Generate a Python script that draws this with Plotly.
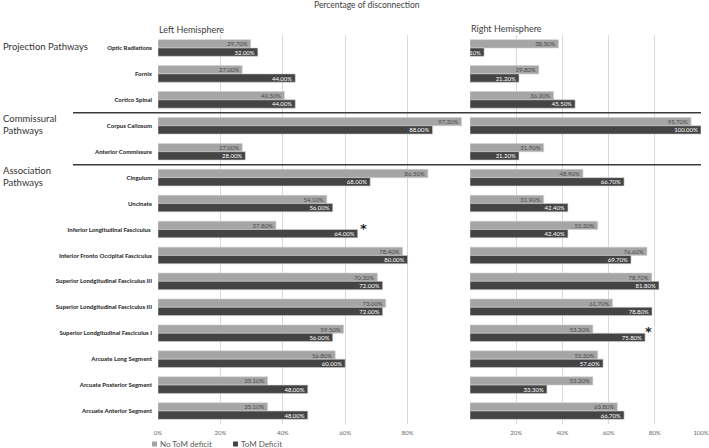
import plotly.graph_objects as go

W, H = 709, 448

categories = [
    "Optic Radiations", "Fornix", "Cortico Spinal",
    "Corpus Callosum", "Anterior Commissure",
    "Cingulum", "Uncinate", "Inferior Longitudinal Fasciculus ",
    "Inferior Fronto Occipital Fasciculus",
    "Superior Londgitudinal Fasciculus III",
    "Superior Londgitudinal Fasciculus III",
    "Superior Londgitudinal Fasciculus I",
    "Arcuate Long Segment", "Arcuate Posterior Segment", "Arcuate Anterior Segment",
]
left_no_tom = [29.7, 27.0, 40.5, 97.3, 27.0, 86.5, 54.1, 37.8, 78.4, 70.3, 73.0, 59.5, 56.8, 35.1, 35.1]
left_tom = [32.0, 44.0, 44.0, 88.0, 28.0, 68.0, 56.0, 64.0, 80.0, 72.0, 72.0, 56.0, 60.0, 48.0, 48.0]
right_no_tom = [38.3, 29.8, 36.2, 95.7, 31.9, 48.9, 31.9, 55.3, 76.6, 78.7, 61.7, 53.2, 55.3, 53.2, 63.8]
right_tom = [6.1, 21.2, 45.5, 100.0, 21.2, 66.7, 42.4, 42.4, 69.7, 81.8, 78.8, 75.8, 57.6, 33.3, 66.7]
left_ticks = [0, 20, 40, 60, 80]
left_tick_labels = ["0%", "20%", "40%", "60%", "80%"]
right_ticks = [0, 20, 40, 60, 80, 100]
right_tick_labels = ["", "20%", "40%", "60%", "80%", "100%"]
group_names = ["Projection Pathways", "Commissural<br>Pathways", "Association<br>Pathways"]
group_rows = [0, 3, 5]
separators = [2.5, 4.5]
significant_left = [7]
significant_right = [11]
series_names = ["No ToM deficit", "ToM Deficit"]

FONT = "Lato, 'Open Sans', sans-serif"
GREY = "#a5a5a5"
DARK = "#444444"
ypos = list(range(len(categories)))

fig = go.Figure()

def add(vals, name, color, txtcolor, xa, ya):
    fig.add_trace(go.Bar(
        y=ypos, x=vals, orientation="h", name=name,
        marker=dict(color=color, line=dict(color="#d0d0d0", width=0.6)),
        text=[f"{v:.2f}%" for v in vals],
        textposition="inside", insidetextanchor="end", textangle=0,
        insidetextfont=dict(size=6, color=txtcolor, family=FONT),
        cliponaxis=True, hoverinfo="skip",
        xaxis=xa, yaxis=ya, showlegend=False,
    ))

add(left_no_tom, series_names[0], GREY, "#4a4a4a", "x", "y")
add(left_tom, series_names[1], DARK, "white", "x", "y")
add(right_no_tom, series_names[0], GREY, "#4a4a4a", "x2", "y2")
add(right_tom, series_names[1], DARK, "white", "x2", "y2")

x0, x1, x2 = 158 / W, 470 / W, 701 / W
ytop, ybot = 35, 424
ydom = [1 - ybot / H, 1 - ytop / H]

yax = dict(range=[len(categories) - 0.5, -0.5], domain=ydom, showgrid=False,
           zeroline=False, showline=False, automargin=False)
xtickfont = dict(size=6, color="#666666")

fig.update_layout(
    width=W, height=H, margin=dict(l=0, r=0, t=0, b=0),
    paper_bgcolor="white", plot_bgcolor="white",
    font=dict(family=FONT, color="#595959"),
    barmode="group", bargap=0.36, bargroupgap=0,
    uniformtext=dict(minsize=6, mode="show"),
    showlegend=False,
    xaxis=dict(domain=[x0, x1], range=[0, 100], tickvals=left_ticks, ticktext=left_tick_labels,
               showgrid=True, gridcolor="#d9d9d9", gridwidth=1, zeroline=False,
               tickfont=xtickfont, anchor="y", ticklen=0, ticklabelstandoff=4, automargin=False),
    xaxis2=dict(domain=[x1, x2], range=[0, 100], tickvals=right_ticks, ticktext=right_tick_labels,
                showgrid=True, gridcolor="#d9d9d9", gridwidth=1, zeroline=False,
                tickfont=xtickfont, anchor="y2", ticklen=0, ticklabelstandoff=4, automargin=False),
    yaxis=dict(**yax, tickvals=ypos, ticktext=categories,
               tickfont=dict(size=6, color="#333333", family="Lato Black, Lato, sans-serif"),
               ticklabelstandoff=5, anchor="x"),
    yaxis2=dict(**yax, showticklabels=False, anchor="x2", matches="y"),
)

# separator lines between pathway groups
for s in separators:
    fig.add_shape(type="line", xref="paper", yref="y", x0=73 / W, x1=701 / W, y0=s, y1=s,
                  line=dict(color="#3a3a3a", width=1.5))

# group labels
for name, r in zip(group_names, group_rows):
    fig.add_annotation(text=name, xref="paper", yref="y", x=1 / W, y=r - 0.05,
                       xanchor="left", yanchor="middle", align="left", showarrow=False,
                       font=dict(size=9.5, color="#333333", family=FONT))

# title and panel titles
fig.add_annotation(text="Percentage of disconnection", xref="paper", yref="paper",
                   x=367 / W, y=1 - 5 / H, xanchor="center", yanchor="middle", showarrow=False,
                   font=dict(size=8.5, color="#404040"))
fig.add_annotation(text="Left Hemisphere", xref="paper", yref="paper",
                   x=157 / W, y=1 - 30 / H, xanchor="left", yanchor="middle", showarrow=False,
                   font=dict(size=9, color="#404040"))
fig.add_annotation(text="Right Hemisphere", xref="paper", yref="paper",
                   x=469 / W, y=1 - 28 / H, xanchor="left", yanchor="middle", showarrow=False,
                   font=dict(size=9, color="#404040"))

# significance asterisks
for r in significant_left:
    fig.add_annotation(text="<b>*</b>", xref="x", yref="y", x=left_tom[r] + 2, y=r - 0.05,
                       showarrow=False, font=dict(size=13, color="#222222", family="DejaVu Sans"))
for r in significant_right:
    fig.add_annotation(text="<b>*</b>", xref="x2", yref="y2", x=right_tom[r] + 1.5, y=r - 0.05,
                       showarrow=False, font=dict(size=13, color="#222222", family="DejaVu Sans"))

# legend (drawn below the left panel)
legend_items = [(series_names[0], GREY, 152), (series_names[1], DARK, 233)]
for name, col, px in legend_items:
    fig.add_shape(type="rect", xref="paper", yref="paper",
                  x0=px / W, x1=(px + 5) / W, y0=1 - 446.5 / H, y1=1 - 441.5 / H,
                  line=dict(width=0), fillcolor=col)
    fig.add_annotation(text=name, xref="paper", yref="paper", x=(px + 6) / W, y=1 - 444 / H,
                       xanchor="left", yanchor="middle", showarrow=False,
                       font=dict(size=8, color="#595959"))

fig.write_html("out.html", config={"displayModeBar": False},
               post_script="document.body.style.margin='0';")
